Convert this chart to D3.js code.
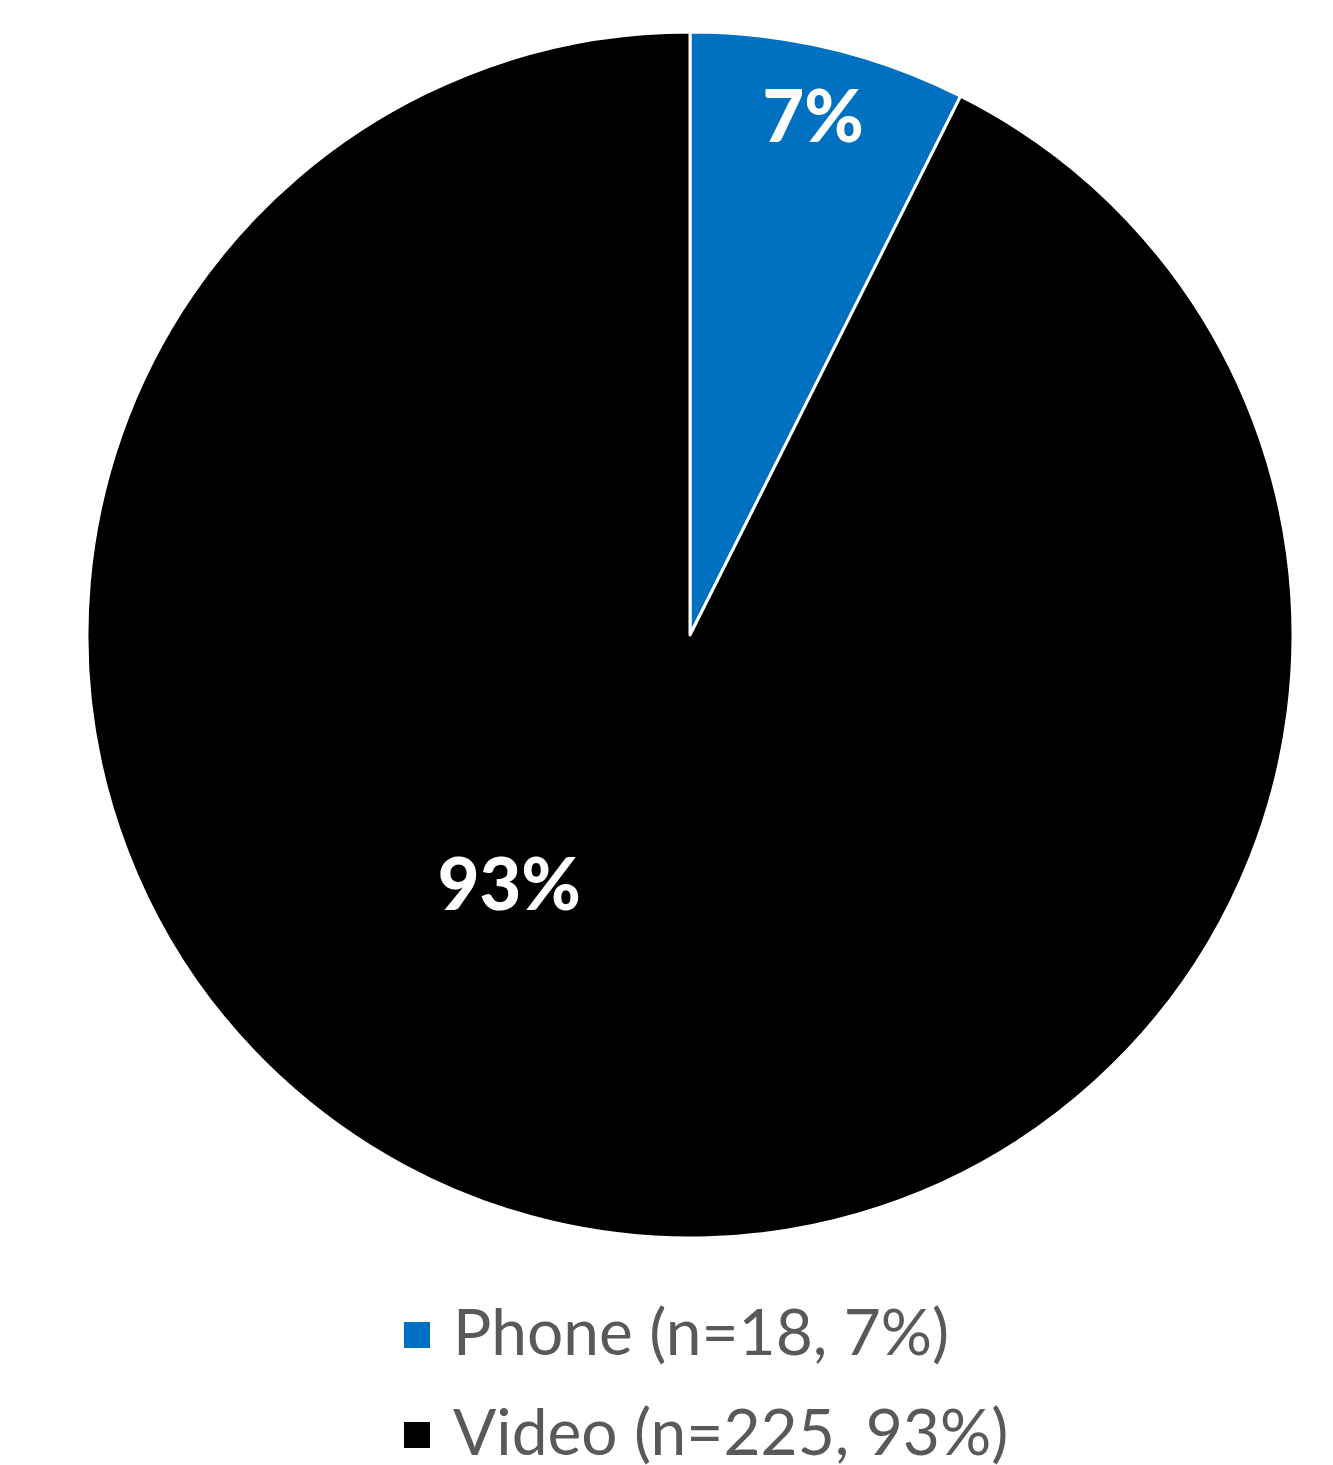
<!DOCTYPE html>
<html>
<head>
<meta charset="utf-8">
<script src="https://cdn.jsdelivr.net/npm/d3@7"></script>
<style>
  body { margin: 0; background: #fff; }
</style>
</head>
<body>
<div id="chart"></div>
<script>
const categories = ["Phone", "Video"];
const counts = [18, 225];
const percents = [7, 93];
const colors = ["#0070C0", "#000000"];

const width = 1333, height = 1465;
const cx = 690, cy = 635, radius = 603;

const svg = d3.select("#chart").append("svg")
    .attr("width", width)
    .attr("height", height);

const data = categories.map((c, i) => ({name: c, n: counts[i], pct: percents[i]}));

const pie = d3.pie().sort(null).value(d => d.n);
const arc = d3.arc().innerRadius(0).outerRadius(radius);
const color = d3.scaleOrdinal().domain(categories).range(colors);

const g = svg.append("g").attr("transform", `translate(${cx},${cy})`);
const arcs = pie(data);

g.selectAll("path")
    .data(arcs)
    .join("path")
    .attr("d", arc)
    .attr("fill", d => color(d.data.name))
    .attr("stroke", "#fff")
    .attr("stroke-width", 3)
    .attr("stroke-linejoin", "round");

// label placement, Excel style: small slice near the rim, big one off-centre
function labelPoint(d, i) {
    if (i === 0) return d3.pointRadial((d.startAngle + d.endAngle) / 2, radius * 0.885);
    return d3.pointRadial(Math.PI * 1.2, radius * 0.51);
}

g.selectAll("text.lbl")
    .data(arcs)
    .join("text")
    .attr("class", "lbl")
    .attr("transform", (d, i) => {
        const [x, y] = labelPoint(d, i);
        return `translate(${x},${y})`;
    })
    .attr("text-anchor", "middle")
    .attr("dy", "0.36em")
    .attr("fill", "#fff")
    .style("font-family", "Lato, 'Open Sans', sans-serif")
    .style("font-weight", 900)
    .style("font-size", "72px")
    .text(d => d.data.pct + "%");

// legend
const legend = svg.append("g").attr("transform", "translate(404,0)");
const rowY = d3.scalePoint().domain(categories).range([1335, 1435]);

const row = legend.selectAll("g")
    .data(data)
    .join("g")
    .attr("transform", d => `translate(0,${rowY(d.name)})`);

row.append("rect")
    .attr("x", 0)
    .attr("y", -13)
    .attr("width", 26)
    .attr("height", 26)
    .attr("fill", d => color(d.name));

row.append("text")
    .attr("x", 49)
    .attr("y", 20)
    .attr("fill", "#595959")
    .style("font-family", "Lato, 'Open Sans', sans-serif")
    .style("font-size", "64px")
    .text(d => `${d.name} (n=${d.n}, ${d.pct}%)`);
</script>
</body>
</html>
